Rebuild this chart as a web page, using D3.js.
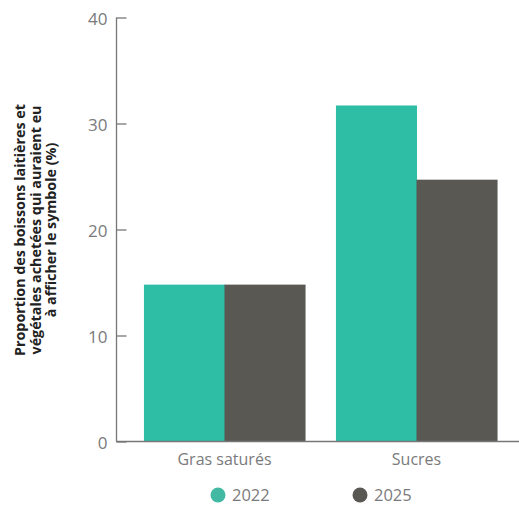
<!DOCTYPE html>
<html>
<head>
    <meta charset="utf-8">
    <title>Chart</title>
    <script src="https://d3js.org/d3.v7.min.js"></script>
    <style>
        body { margin: 0; background: #fff; }
        text { font-family: "Open Sans", "Noto Sans", sans-serif; }
    </style>
</head>
<body>
<script>
    var width = 519,
        height = 506;

    // data
    var categories = ["Gras saturés", "Sucres"];
    var seriesNames = ["2022", "2025"];
    var values2022 = [14.8, 31.7];
    var values2025 = [14.8, 24.7];
    var yTicks = [0, 10, 20, 30, 40];
    var colors = ["#2ebda5", "#5a5852"];

    var axisColor = "#77777a",
        labelColor = "#7a7a7c";

    var svg = d3.select("body").append("svg")
        .attr("width", width)
        .attr("height", height);

    var y = d3.scaleLinear().domain([0, 40]).range([441.5, 17.5]);

    var x0 = d3.scaleBand()
        .domain(categories)
        .range([128.5, 512.5])
        .paddingInner(0.161)
        .paddingOuter(0.0805);

    var x1 = d3.scaleBand()
        .domain(seriesNames)
        .range([0, x0.bandwidth()]);

    var rows = categories.map(function (c, i) {
        return {cat: c, vals: [values2022[i], values2025[i]]};
    });

    // bars
    var groups = svg.selectAll(".grp").data(rows)
        .enter().append("g")
        .attr("transform", function (d) { return "translate(" + x0(d.cat) + ",0)"; });

    groups.selectAll("rect")
        .data(function (d) {
            return d.vals.map(function (v, j) { return {s: seriesNames[j], v: v, j: j}; });
        })
        .enter().append("rect")
        .attr("x", function (d) { return x1(d.s); })
        .attr("y", function (d) { return y(d.v); })
        .attr("width", x1.bandwidth() + 0.5)
        .attr("height", function (d) { return y(0) - y(d.v); })
        .attr("fill", function (d) { return colors[d.j]; });

    // y axis (ticks pointing inward)
    var yAxis = svg.append("g")
        .attr("transform", "translate(116.5,0)")
        .call(d3.axisRight(y).tickValues(yTicks).tickSize(10).tickFormat(d3.format("d")));
    yAxis.select(".domain").attr("stroke", axisColor).attr("stroke-width", 1.3)
        .attr("d", "M0," + y(40) + "V" + y(0));
    yAxis.selectAll(".tick line").attr("stroke", axisColor).attr("stroke-width", 1.3);
    yAxis.selectAll(".tick text")
        .attr("x", -9)
        .attr("dy", "0.42em")
        .attr("text-anchor", "end")
        .attr("fill", labelColor)
        .style("font-size", "17px");

    // baseline
    svg.append("line")
        .attr("x1", 116).attr("x2", width)
        .attr("y1", y(0)).attr("y2", y(0))
        .attr("stroke", axisColor)
        .attr("stroke-width", 1.3);

    // category labels
    svg.selectAll(".cat").data(categories)
        .enter().append("text")
        .attr("x", function (d) { return x0(d) + x0.bandwidth() / 2; })
        .attr("y", 465)
        .attr("text-anchor", "middle")
        .attr("fill", labelColor)
        .style("font-size", "16px")
        .text(function (d) { return d; });

    // y axis title
    var titleLines = [
        "Proportion des boissons laitières et",
        "végétales achetées qui auraient eu",
        "à afficher le symbole (%)"
    ];
    svg.append("text")
        .attr("transform", "translate(25,230) rotate(-90)")
        .attr("text-anchor", "middle")
        .attr("fill", "#222")
        .style("font-size", "14.3px")
        .style("font-weight", "bold")
        .selectAll("tspan").data(titleLines)
        .enter().append("tspan")
        .attr("x", 0)
        .attr("dy", function (d, i) { return i === 0 ? 0 : 15.5; })
        .text(function (d) { return d; });

    // legend
    var legendX = [218, 360];
    var legend = svg.selectAll(".leg").data(seriesNames)
        .enter().append("g")
        .attr("transform", function (d, i) { return "translate(" + legendX[i] + ",495)"; });
    legend.append("circle")
        .attr("r", 7.5)
        .attr("fill", function (d, i) { return i === 0 ? "#43b8a3" : colors[1]; });
    legend.append("text")
        .attr("x", 14)
        .attr("dy", "0.34em")
        .attr("fill", labelColor)
        .style("font-size", "16.5px")
        .text(function (d) { return d; });
</script>
</body>
</html>
